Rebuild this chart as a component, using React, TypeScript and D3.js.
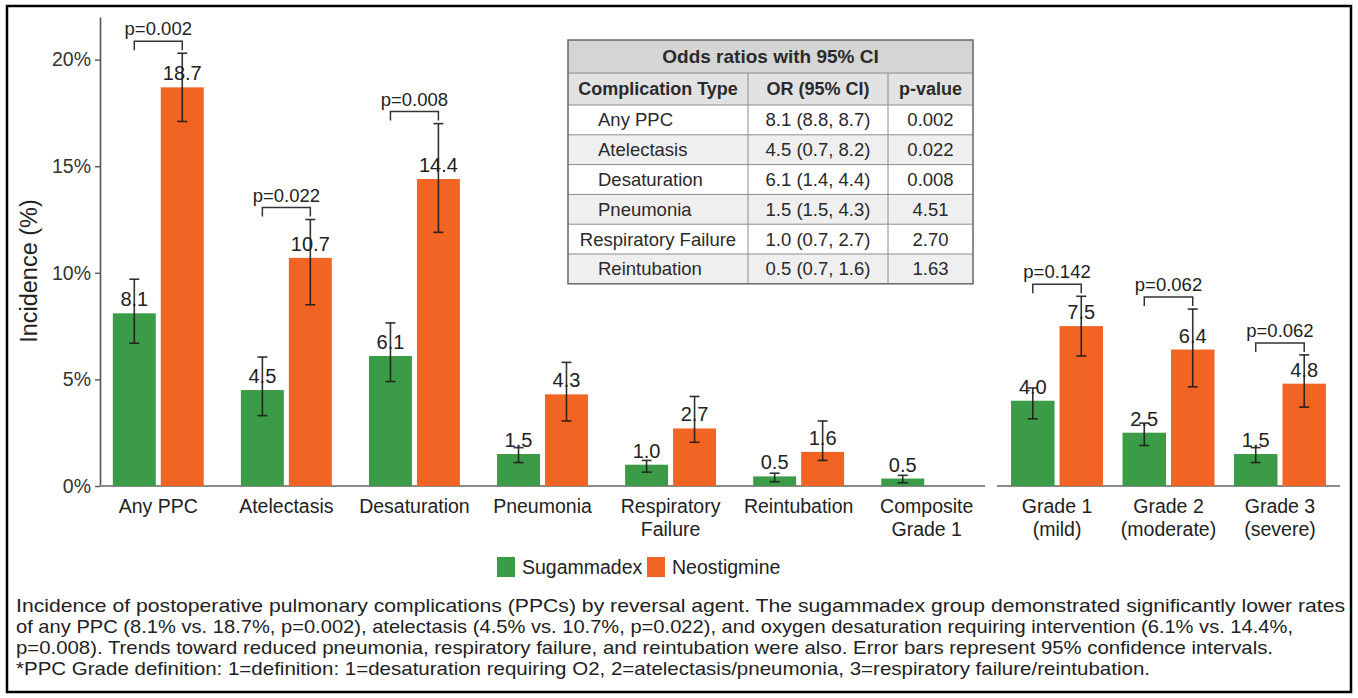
import React, { useEffect, useRef } from "react";
import * as d3 from "d3";

const W = 1358;
const H = 698;
const FONT = "'Liberation Sans', Arial, Helvetica, sans-serif";
const GREEN = "#3b9b46";
const ORANGE = "#f26424";

// main panel
const categories = ["Any PPC", "Atelectasis", "Desaturation", "Pneumonia", "Respiratory\nFailure", "Reintubation", "Composite\nGrade 1"];
const sugammadex = [8.1, 4.5, 6.1, 1.5, 1.0, 0.45, 0.35];
const sugLabels = ["8.1", "4.5", "6.1", "1.5", "1.0", "0.5", "0.5"];
const sugLow = [6.7, 3.3, 4.9, 1.1, 0.65, 0.2, 0.15];
const sugHigh = [9.7, 6.05, 7.65, 1.8, 1.2, 0.6, 0.5];
const neostigmine = [18.7, 10.7, 14.4, 4.3, 2.7, 1.6, null];
const neoLabels = ["18.7", "10.7", "14.4", "4.3", "2.7", "1.6", null];
const neoLow = [17.1, 8.5, 11.9, 3.05, 2.05, 1.2, null];
const neoHigh = [20.3, 12.5, 17.0, 5.8, 4.2, 3.05, null];
const pLabels = ["p=0.002", "p=0.022", "p=0.008", null, null, null, null];

// grade panel
const grades = ["Grade 1\n(mild)", "Grade 2\n(moderate)", "Grade 3\n(severe)"];
const gradeSug = [4.0, 2.5, 1.5];
const gradeSugLabels = ["4.0", "2.5", "1.5"];
const gradeSugLow = [3.15, 1.9, 1.1];
const gradeSugHigh = [4.6, 2.95, 1.8];
const gradeNeo = [7.5, 6.4, 4.8];
const gradeNeoLabels = ["7.5", "6.4", "4.8"];
const gradeNeoLow = [6.1, 4.65, 3.7];
const gradeNeoHigh = [8.9, 8.3, 6.15];
const gradeP = ["p=0.142", "p=0.062", "p=0.062"];

const yTicks = [0, 5, 10, 15, 20];

// inset table
const tableTitle = "Odds ratios with 95% CI";
const tableHeaders = ["Complication Type", "OR (95% CI)", "p-value"];
const tableTypes = ["Any PPC", "Atelectasis", "Desaturation", "Pneumonia", "Respiratory Failure", "Reintubation"];
const tableOR = ["8.1 (8.8, 8.7)", "4.5 (0.7, 8.2)", "6.1 (1.4, 4.4)", "1.5 (1.5, 4.3)", "1.0 (0.7, 2.7)", "0.5 (0.7, 1.6)"];
const tableP = ["0.002", "0.022", "0.008", "4.51", "2.70", "1.63"];

const legendNames = ["Sugammadex", "Neostigmine"];

const captionLines = [
  "Incidence of postoperative pulmonary complications (PPCs) by reversal agent. The sugammadex group demonstrated significantly lower rates",
  "of any PPC (8.1% vs. 18.7%, p=0.002), atelectasis (4.5% vs. 10.7%, p=0.022), and oxygen desaturation requiring intervention (6.1% vs. 14.4%,",
  "p=0.008). Trends toward reduced pneumonia, respiratory failure, and reintubation were also. Error bars represent 95% confidence intervals.",
  "*PPC Grade definition: 1=definition: 1=desaturation requiring O2, 2=atelectasis/pneumonia, 3=respiratory failure/reintubation.",
];
const captionEnds = [1345, 1293, 1273, 1150];

export default function App() {
  const svgRef = useRef<SVGSVGElement>(null);

  useEffect(() => {
    const svg = d3.select(svgRef.current);
    svg.selectAll("*").remove();
    svg.attr("font-family", FONT);

    svg.append("rect").attr("width", W).attr("height", H).attr("fill", "#fff");
    svg.append("rect")
      .attr("x", 7).attr("y", 6).attr("width", 1344).attr("height", 686)
      .attr("fill", "none").attr("stroke", "#000").attr("stroke-width", 2.5);

    const y = d3.scaleLinear().domain([0, 22]).range([486, 17]);

    // y axis
    const yAxis = svg.append("g")
      .attr("transform", "translate(100,0)")
      .call(d3.axisLeft(y).tickValues(yTicks).tickFormat((d) => d + "%").tickSize(5).tickSizeOuter(0).tickPadding(4));
    yAxis.attr("font-family", FONT).attr("font-size", 19.5);
    yAxis.select(".domain").attr("stroke", "#555").attr("stroke-width", 1.6);
    yAxis.selectAll(".tick line").attr("stroke", "#555").attr("stroke-width", 1.4);
    yAxis.selectAll(".tick text").attr("fill", "#333");

    svg.append("text")
      .attr("transform", "translate(29,271) rotate(-90)")
      .attr("text-anchor", "middle").attr("dominant-baseline", "central")
      .attr("font-size", 23.5).attr("fill", "#222")
      .text("Incidence (%)");

    function drawPanel(
      cats: string[], range: [number, number], padIn: number, padOut: number,
      sv: number[], sLab: string[], sLo: number[], sHi: number[],
      nv: (number | null)[], nLab: (string | null)[], nLo: (number | null)[], nHi: (number | null)[],
      pl: (string | null)[]
    ) {
      const x = d3.scaleBand<string>().domain(cats).range(range).paddingInner(padIn).paddingOuter(padOut);
      const bw = x.bandwidth();
      const gap = 5;
      const barW = (bw - gap) / 2;
      const g = svg.append("g");

      // baseline
      g.append("line")
        .attr("x1", range[0]).attr("x2", range[1])
        .attr("y1", y(0)).attr("y2", y(0))
        .attr("stroke", "#8a8a8a").attr("stroke-width", 2);

      const bars: { cx: number; v: number; lab: string; lo: number; hi: number; color: string }[] = [];
      cats.forEach((c, i) => {
        const x0 = x(c) as number;
        bars.push({ cx: x0 + barW / 2, v: sv[i], lab: sLab[i], lo: sLo[i], hi: sHi[i], color: GREEN });
        if (nv[i] != null) {
          bars.push({ cx: x0 + barW + gap + barW / 2, v: nv[i] as number, lab: nLab[i] as string, lo: nLo[i] as number, hi: nHi[i] as number, color: ORANGE });
        }
      });

      g.selectAll("rect.bar").data(bars).join("rect")
        .attr("class", "bar")
        .attr("x", (d) => d.cx - barW / 2).attr("width", barW)
        .attr("y", (d) => y(d.v)).attr("height", (d) => y(0) - y(d.v))
        .attr("fill", (d) => d.color);

      const eb = g.selectAll("g.eb").data(bars).join("g").attr("class", "eb")
        .attr("stroke", "#1c1c1c").attr("stroke-width", 1.6).attr("stroke-opacity", 0.9);
      eb.append("line").attr("x1", (d) => d.cx).attr("x2", (d) => d.cx).attr("y1", (d) => y(d.lo)).attr("y2", (d) => y(d.hi));
      eb.append("line").attr("x1", (d) => d.cx - 5).attr("x2", (d) => d.cx + 5).attr("y1", (d) => y(d.lo)).attr("y2", (d) => y(d.lo));
      eb.append("line").attr("x1", (d) => d.cx - 5).attr("x2", (d) => d.cx + 5).attr("y1", (d) => y(d.hi)).attr("y2", (d) => y(d.hi));

      g.selectAll("text.val").data(bars).join("text")
        .attr("class", "val")
        .attr("x", (d) => d.cx).attr("y", (d) => y(d.v) - 7)
        .attr("text-anchor", "middle").attr("font-size", 20).attr("fill", "#222")
        .text((d) => d.lab);

      // p-value brackets
      cats.forEach((c, i) => {
        if (!pl[i]) return;
        const x0 = x(c) as number;
        const xl = x0 + barW / 2;
        const xr = x0 + barW + gap + barW / 2;
        const top = Math.max(sHi[i], (nHi[i] as number) ?? 0);
        const by = y(top) - 12;
        g.append("path")
          .attr("d", `M${xl},${by + 9}V${by}H${xr}V${by + 9}`)
          .attr("fill", "none").attr("stroke", "#333").attr("stroke-width", 1.5);
        g.append("text")
          .attr("x", (xl + xr) / 2).attr("y", by - 6)
          .attr("text-anchor", "middle").attr("font-size", 18.5).attr("fill", "#222")
          .text(pl[i] as string);
      });

      // category labels
      cats.forEach((c) => {
        const t = g.append("text")
          .attr("text-anchor", "middle").attr("font-size", 19.5).attr("fill", "#222");
        c.split("\n").forEach((line, k) => {
          t.append("tspan").attr("x", (x(c) as number) + bw / 2).attr("y", 513 + k * 23).text(line);
        });
      });
    }

    drawPanel(categories, [100, 985], 0.29, 0.1,
      sugammadex, sugLabels, sugLow, sugHigh,
      neostigmine, neoLabels, neoLow, neoHigh, pLabels);
    drawPanel(grades, [997, 1340], 0.175, 0.126,
      gradeSug, gradeSugLabels, gradeSugLow, gradeSugHigh,
      gradeNeo, gradeNeoLabels, gradeNeoLow, gradeNeoHigh, gradeP);

    // inset table
    const colX = [568, 748, 888, 973];
    const rowY = [40, 73, 105];
    for (let i = 1; i <= tableTypes.length; i++) rowY.push(105 + i * 29.8);
    const tg = svg.append("g").attr("font-size", 18.5).attr("fill", "#2a2a2a");
    tg.append("rect").attr("x", colX[0]).attr("y", rowY[0]).attr("width", colX[3] - colX[0]).attr("height", rowY[1] - rowY[0]).attr("fill", "#d5d5d5");
    tg.append("rect").attr("x", colX[0]).attr("y", rowY[1]).attr("width", colX[3] - colX[0]).attr("height", rowY[2] - rowY[1]).attr("fill", "#e2e2e2");
    tableTypes.forEach((_, i) => {
      tg.append("rect").attr("x", colX[0]).attr("y", rowY[i + 2]).attr("width", colX[3] - colX[0]).attr("height", rowY[i + 3] - rowY[i + 2])
        .attr("fill", i % 2 === 0 ? "#ffffff" : "#efefef");
    });
    // grid
    rowY.slice(1, -1).forEach((ry) => {
      tg.append("line").attr("x1", colX[0]).attr("x2", colX[3]).attr("y1", ry).attr("y2", ry).attr("stroke", "#8c8c8c").attr("stroke-width", 1);
    });
    colX.slice(1, 3).forEach((cx) => {
      tg.append("line").attr("x1", cx).attr("x2", cx).attr("y1", rowY[1]).attr("y2", rowY[rowY.length - 1]).attr("stroke", "#8c8c8c").attr("stroke-width", 1);
    });
    tg.append("rect").attr("x", colX[0]).attr("y", rowY[0]).attr("width", colX[3] - colX[0]).attr("height", rowY[rowY.length - 1] - rowY[0])
      .attr("fill", "none").attr("stroke", "#666").attr("stroke-width", 1.5);

    const mid = (a: number, b: number) => (a + b) / 2;
    tg.append("text").attr("x", mid(colX[0], colX[3])).attr("y", mid(rowY[0], rowY[1]))
      .attr("text-anchor", "middle").attr("dominant-baseline", "central").attr("font-weight", "bold").attr("font-size", 19)
      .text(tableTitle);
    tableHeaders.forEach((h, j) => {
      tg.append("text").attr("x", mid(colX[j], colX[j + 1])).attr("y", mid(rowY[1], rowY[2]))
        .attr("text-anchor", "middle").attr("dominant-baseline", "central").attr("font-weight", "bold").attr("font-size", 18)
        .text(h);
    });
    tableTypes.forEach((t, i) => {
      const cy = mid(rowY[i + 2], rowY[i + 3]);
      const tt = tg.append("text").attr("x", 598).attr("y", cy).attr("dominant-baseline", "central").text(t);
      const len = (tt.node() as SVGTextElement).getComputedTextLength();
      if (598 + len > colX[1] - 8) {
        tt.attr("x", mid(colX[0], colX[1])).attr("text-anchor", "middle");
      }
      tg.append("text").attr("x", mid(colX[1], colX[2])).attr("y", cy).attr("text-anchor", "middle").attr("dominant-baseline", "central").text(tableOR[i]);
      tg.append("text").attr("x", mid(colX[2], colX[3])).attr("y", cy).attr("text-anchor", "middle").attr("dominant-baseline", "central").text(tableP[i]);
    });

    // legend
    const lg = svg.append("g").attr("font-size", 19.5).attr("fill", "#222");
    const legendX = [497, 647];
    legendNames.forEach((name, i) => {
      lg.append("rect").attr("x", legendX[i]).attr("y", 557).attr("width", 18).attr("height", 20).attr("fill", i === 0 ? GREEN : ORANGE);
      lg.append("text").attr("x", legendX[i] + 25).attr("y", 574).text(name);
    });

    // caption
    const cg = svg.append("g").attr("font-size", 19).attr("fill", "#222");
    captionLines.forEach((line, i) => {
      cg.append("text")
        .attr("x", 16).attr("y", 612 + i * 21)
        .attr("textLength", captionEnds[i] - 16).attr("lengthAdjust", "spacingAndGlyphs")
        .text(line);
    });
  }, []);

  return (
    <div style={{ position: "absolute", left: 0, top: 0 }}>
      <svg ref={svgRef} width={W} height={H} style={{ display: "block" }} />
    </div>
  );
}
